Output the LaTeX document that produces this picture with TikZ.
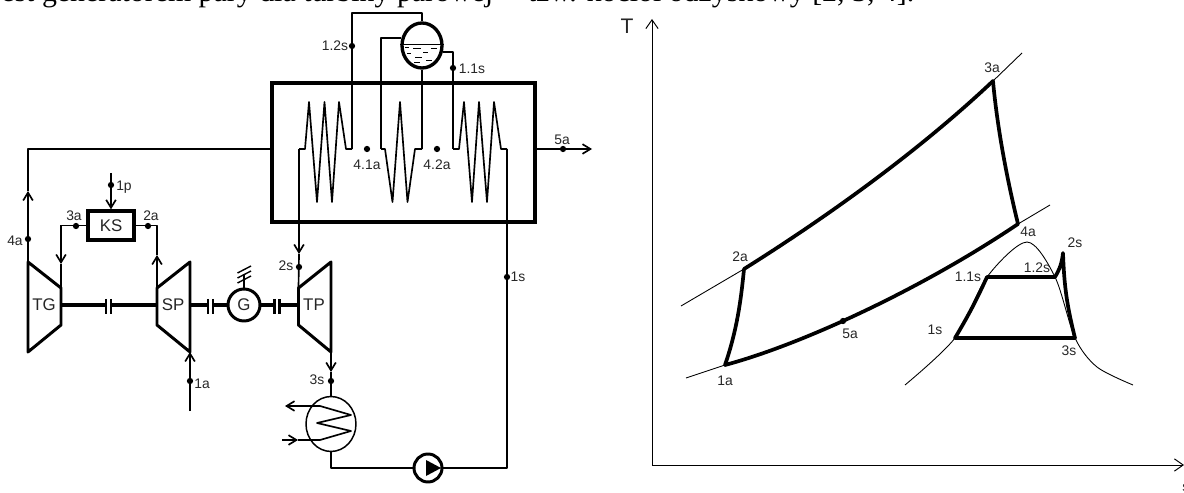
\documentclass[tikz,border=0pt]{standalone}
\usepackage{fontspec}
\setmainfont{Liberation Sans}
\newfontfamily\serifcap{Liberation Serif}
\usetikzlibrary{positioning,arrows.meta,shapes.geometric,calc}

\begin{document}
\begin{tikzpicture}[x=0.02cm,y=-0.02cm,
    pipe/.style={line width=0.95pt,line join=round},
    flow/.style={line width=0.95pt,-{Straight Barb[length=4.5pt,width=5.5pt]}},
    thickline/.style={line width=1.9pt},
    machine/.style={line width=1.7pt,line join=round},
    ptdot/.style={circle,fill=black,inner sep=0pt,minimum size=0.125cm},
    lab/.style={font=\fontsize{7.9}{9}\selectfont,text=black!85,inner sep=0pt},
    biglab/.style={font=\fontsize{9.6}{11}\selectfont,text=black!85,inner sep=0pt},
    thinline/.style={line width=0.5pt},
    axisline/.style={line width=0.55pt,-{Straight Barb[length=5pt,width=7pt]}},
    cycle/.style={line width=2.1pt,line cap=round,line join=round}]
  \useasboundingbox (0,0) rectangle (1184,493);

  % Text line cut off by the picture edge
  \node[anchor=base west,inner sep=0pt,font=\serifcap\fontsize{17}{20}\selectfont] (topline) at (1,2)
    {est generatorem pary dla turbiny parowej -- tzw. kocioł odzyskowy [2, 3, 4].};

  % Boiler and drum
  \node[draw,line width=1.9pt,minimum width=5.26cm,minimum height=2.78cm,inner sep=0pt] (boiler) at (403.5,152.5) {};
  \node[draw,ellipse,line width=1.9pt,minimum width=0.8cm,minimum height=0.9cm,inner sep=0pt] (drum) at (422,45.5) {};
  \draw[line width=0.4pt] ($(drum.west)+(0,-1.5)$) -- ($(drum.east)+(0,-1.5)$);
  \foreach \xa/\xb/\ya in {405/409/47, 413/421/48.7, 431/437/48.7, 423/428/52, 407/411/53, 415/422/57, 426/432/60, 414/420/62} {
    \draw[line width=0.4pt] (\xa,\ya) -- (\xb,\ya);
  }

  % Coils
  \coordinate (coilA) at (299,149);
  \coordinate (coilAend) at (352,149);
  \coordinate (coilB) at (381,149);
  \coordinate (coilBend) at (422,149);
  \coordinate (coilC) at (453,149);
  \coordinate (coilCend) at (507,149);
  \draw[pipe] (coilA) -- (305,149) -- (309,102) -- (317,202) -- (324.5,102) -- (332,202) -- (339,102) -- (346,149) -- (coilAend);
  \draw[pipe] (coilB) -- (385,149) -- (392.5,202) -- (400,102) -- (407.5,202) -- (415,149) -- (coilBend);
  \draw[pipe] (coilC) -- (459,149) -- (464,102) -- (472,202) -- (479,102) -- (487,202) -- (494,102) -- (501,149) -- (coilCend);

  % Drum connections
  \draw[pipe] (coilAend) -- (352,13) -- (422,13) -- (drum.north);
  \draw[pipe] (coilB) -- (381,38) -- ($(drum.west)+(0.5,-7.5)$);
  \draw[pipe] (coilBend) -- (drum.south);
  \draw[pipe] (coilC) -- (453,52) -- ($(drum.east)+(-1,6.5)$);

  % Turbines
  \draw[machine] (28,262) -- (61,288) -- (61,325) -- (28,352) -- cycle;
  \draw[machine] (157,288) -- (190,262) -- (190,352) -- (157,325) -- cycle;
  \draw[machine] (298.5,288) -- (331,262) -- (331,352) -- (298.5,325) -- cycle;
  \node[biglab] (TG) at (44,305) {TG};
  \node[biglab] (SP) at (173,305) {SP};
  \node[biglab] (TP) at (314,305) {TP};
  \coordinate (TGin) at (28,262);
  \coordinate (TGout) at (61,288);
  \coordinate (SPin) at (190,352);
  \coordinate (SPout) at (157,288);
  \coordinate (TPin) at (298.5,288);
  \coordinate (TPout) at (331,352);

  % Shaft, generator and couplings
  \node[draw,circle,line width=1.7pt,minimum size=0.64cm,inner sep=0pt,biglab] (G) at (244,305) {G};
  \draw[thickline] (61,305) -- (157,305);
  \draw[thickline] (190,305) -- (G.west);
  \draw[thickline] (G.east) -- (298.5,305);
  \foreach \x in {108.5, 210.5, 277} {
    \fill[white] (\x-2,298) rectangle (\x+2,314);
    \draw[line width=1.2pt] (\x-2.5,299) -- (\x-2.5,314);
    \draw[line width=1.2pt] (\x+2.5,299) -- (\x+2.5,314);
  }
  \draw[pipe] (G.north) -- (244,274);
  \foreach \y in {0,5,10} {
    \draw[line width=0.8pt] (237.5,283-\y) -- (251,276-\y);
  }

  % Combustion chamber
  \node[draw,line width=1.9pt,minimum width=0.92cm,minimum height=0.58cm,inner sep=0pt,biglab] (KS) at (111,225.5) {KS};
  \coordinate (fuelin) at (111,173);
  \draw[flow] (fuelin) -- (KS.north);
  \coordinate (arr3a) at (61,264);
  \coordinate (arr2a) at (157,255);
  \draw[flow] (KS.west) -| (arr3a);
  \draw[pipe] (arr3a) -- (TGout);
  \draw[pipe] (KS.east) -| (arr2a);
  \draw[flow] (SPout) -- (arr2a);

  % Flue gas
  \coordinate (arr4a) at (28,191);
  \coordinate (gasout) at (592,149);
  \draw[flow] (TGin) -- (arr4a);
  \draw[pipe] (arr4a) |- (boiler.west |- coilA);
  \draw[flow] (boiler.east |- gasout) -- (gasout);

  % Air inlet
  \coordinate (airin) at (190,411);
  \coordinate (arr1a) at (190,364);
  \draw[pipe] (airin) -- (arr1a);
  \draw[flow] (arr1a) -- (SPin);

  % Steam to TP
  \coordinate (arr2s) at (299,254);
  \draw[flow] (coilA) -- (arr2s);
  \draw[pipe] (arr2s) -- (TPin);

  % Condenser and pump
  \node[draw,ellipse,line width=0.85pt,minimum width=1cm,minimum height=1.1cm,inner sep=0pt] (cond) at (331,424) {};
  \node[draw,circle,line width=1.7pt,minimum size=0.56cm,inner sep=0pt] (pump) at (428,468) {};
  \coordinate (arr3s) at (331,372);
  \draw[flow] (TPout) -- (arr3s);
  \draw[pipe] (arr3s) -- (cond.north);
  \draw[pipe] (cond.south) |- (pump.west);
  \draw[pipe] (pump.east) -| (coilCend);
  \fill (426,460) -- (441,468) -- (426,476) -- cycle;
  \coordinate (coolout) at (285,406);
  \coordinate (coolin) at (282,440);
  \coordinate (arrcool) at (298,440);
  \draw[flow] (320,406) -- (coolout);
  \draw[pipe] (320,406) -- (351,415) -- (317,423) -- (351,431) -- (320,440) -- (arrcool);
  \draw[flow] (coolin) -- (arrcool);

  % Points on the scheme
  \foreach \name/\x/\y in {p12s/352/46, p11s/453/68, p41a/367/149, p42a/437/149, p5a/563/149, p1p/111/185,
      p3a/76/226, p2a/148/226, p4a/28/239, p2s/299/267, p1s/507/277, p1a/190/381, p3s/331/381} {
    \node[ptdot] (\name) at (\x,\y) {};
  }
  \foreach \name/\x/\y/\txt in {t12s/335/46/1.2s, t11s/472/69/1.1s, t41a/367/165/4.1a, t42a/437/165/4.2a,
      t5a/562/140/5a, t1p/124/187/1p, t3a/74/216/3a, t2a/151/216/2a, t4a/15/241/4a, t2s/286/266/2s,
      t1s/518/277/1s, t1a/202/384/1a, t3s/317/380/3s} {
    \node[lab] (\name) at (\x,\y) {\txt};
  }

  % Axes of the T-s chart
  \coordinate (origin) at (652,465);
  \coordinate (Ttop) at (652,19);
  \coordinate (send) at (1184,465);
  \draw[axisline] (origin) -- (Ttop);
  \draw[axisline] (origin) -- (send);
  \node[font=\fontsize{12}{14}\selectfont,text=black!85,inner sep=0pt] (Tlab) at (627,26) {T};
  \node[lab,anchor=west] (slab) at (1182,488) {s};

  % Gas cycle
  \coordinate (c3a) at (993,81);
  \coordinate (c4a) at (1018,224);
  \coordinate (c2a) at (744,269);
  \coordinate (c1a) at (725,365);
  \draw[thinline] (c3a) -- (1022,53);
  \draw[thinline] (c4a) -- (1050,205);
  \draw[thinline] (c2a) -- (681,306);
  \draw[thinline] (c1a) -- (686,378);
  \draw[cycle] (c2a) .. controls (830,215) and (920,150) .. (c3a);
  \draw[cycle] (c3a) .. controls (997,125) and (1006,175) .. (c4a);
  \draw[cycle] (c1a) .. controls (800,345) and (920,290) .. (c4a);
  \draw[cycle] (c1a) .. controls (737,330) and (741,300) .. (c2a);
  \node[ptdot] (d5a) at (843,321) {};

  % Steam cycle
  \draw[thinline] plot[smooth] coordinates {(905,385) (955,338) (987,277) (1027,242) (1055,277) (1075,338) (1097,367) (1133,385)};
  \coordinate (s1s) at (955,338);
  \coordinate (s11s) at (987,277);
  \coordinate (s12s) at (1055,277);
  \coordinate (s2s) at (1063,253);
  \coordinate (s3s) at (1075,338);
  \draw[cycle] (s1s) to[bend right=3] (s11s) -- (s12s) to[bend right=12] (s2s) to[bend right=6] (s3s) -- cycle;

  \foreach \name/\x/\y/\txt in {a3a/992/68/3a, a4a/1028/232/4a, a2a/740/257/2a, a1a/725/381/1a, a5a/850/334/5a,
      b2s/1075/243/2s, b12s/1037/268/1.2s, b11s/968/277/1.1s, b1s/935/330/1s, b3s/1069/351/3s} {
    \node[lab] (\name) at (\x,\y) {\txt};
  }
\end{tikzpicture}
\end{document}
